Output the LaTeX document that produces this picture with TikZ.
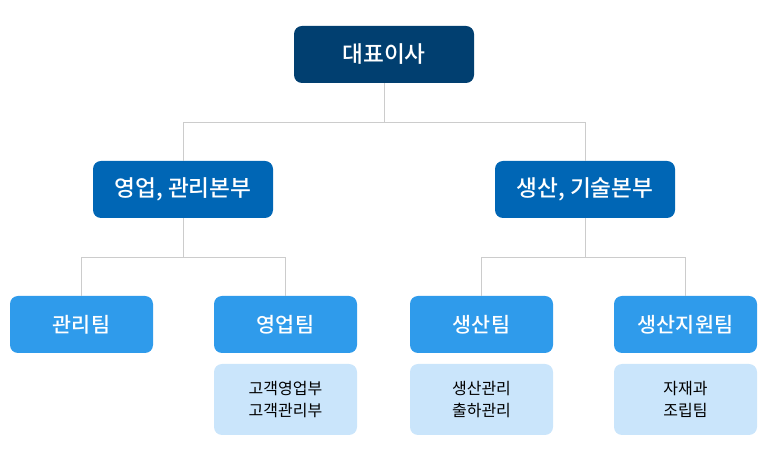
\documentclass[tikz,border=0pt]{standalone}
\usepackage{fontspec}
\setmainfont{Noto Sans CJK KR}
\newfontfamily\medfont{Noto Sans CJK KR Medium}
\usetikzlibrary{positioning}

\definecolor{ceoblue}{HTML}{013F70}
\definecolor{divblue}{HTML}{0066B5}
\definecolor{teamblue}{HTML}{2F9BEB}
\definecolor{subblue}{HTML}{CAE5FB}
\definecolor{linegray}{HTML}{CCCCCC}

\begin{document}
\begin{tikzpicture}[
    x=0.75pt,
    y=-0.75pt,
    box/.style={
        rounded corners=6pt,
        inner sep=0pt,
        minimum height=42.75pt,
        text=white,
    },
    ceobox/.style={
        box,
        fill=ceoblue,
        minimum width=135pt,
        font=\medfont\fontsize{17}{20}\selectfont,
    },
    divbox/.style={
        box,
        fill=divblue,
        minimum width=135pt,
        font=\medfont\fontsize{17}{20}\selectfont,
    },
    teambox/.style={
        box,
        fill=teamblue,
        minimum width=107.25pt,
        font=\medfont\fontsize{15.5}{18}\selectfont,
    },
    subbox/.style={
        rounded corners=6pt,
        inner sep=0pt,
        fill=subblue,
        minimum width=107.25pt,
        minimum height=53.25pt,
        align=center,
        font=\fontsize{12}{17}\selectfont,
    },
    link/.style={
        draw=linegray,
        line width=0.75pt,
    }
]
    \useasboundingbox (0,0) rectangle (768,473);

    % Top
    \node[ceobox] (ceo) at (384,54.5) {대표이사};

    % Divisions
    \node[divbox] (sales) at (183,189.5) {영업, 관리본부};
    \node[divbox] (prod) at (585,189.5) {생산, 기술본부};

    % Teams
    \node[teambox] (mgmt) at (81.5,324.5) {관리팀};
    \node[teambox] (salesteam) at (285.5,324.5) {영업팀};
    \node[teambox] (prodteam) at (481.5,324.5) {생산팀};
    \node[teambox] (support) at (685.5,324.5) {생산지원팀};

    % Sub units
    \node[subbox] (salessub) at (285.5,399.5) {고객영업부\\고객관리부};
    \node[subbox] (prodsub) at (481.5,399.5) {생산관리\\출하관리};
    \node[subbox] (supportsub) at (685.5,399.5) {자재과\\조립팀};

    % Links
    \draw[link] (ceo.south) -- ++(0,39) coordinate (ceoj);
    \draw[link] (ceoj) -| (sales.north);
    \draw[link] (ceoj) -| (prod.north);

    \draw[link] (sales.south) -- ++(0,39) coordinate (salesj);
    \draw[link] (salesj) -| (mgmt.north);
    \draw[link] (salesj) -| (salesteam.north);

    \draw[link] (prod.south) -- ++(0,39) coordinate (prodj);
    \draw[link] (prodj) -| (prodteam.north);
    \draw[link] (prodj) -| (support.north);
\end{tikzpicture}
\end{document}
